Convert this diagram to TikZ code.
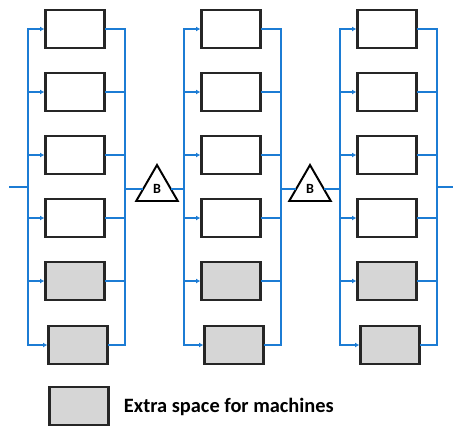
\documentclass[tikz,border=0pt]{standalone}
\usepackage{fontspec}
\setmainfont{Carlito}
\usetikzlibrary{shapes.geometric,arrows.meta}
\definecolor{busblue}{RGB}{28,124,212}
\begin{document}
\begin{tikzpicture}[x=0.025cm, y=-0.025cm,
    machine/.style={draw=black!85, line width=1.6pt, minimum width=1.48cm, minimum height=0.96cm, inner sep=0pt},
    spare/.style={machine, fill=black!16},
    bus/.style={draw=busblue, line width=1.4pt, line cap=rect},
    feed/.style={bus, line cap=butt, -{Latex[length=3pt,width=3.5pt]}},
    buffer/.style={draw, line width=1.4pt, regular polygon, regular polygon sides=3, minimum size=1.2cm, inner sep=0pt, font=\bfseries\fontsize{10}{11}\selectfont}]
    \useasboundingbox (0,0) rectangle (453,430);
    % stations
    \foreach \c/\x in {1/75,2/231,3/387}{
      \foreach \r/\y in {1/29,2/92,3/155,4/218}
        \node[machine] (m\c\r) at (\x,\y) {};
      \node[spare] (m\c5) at (\x,281) {};
      \node[spare] (m\c6) at (\x+3,345) {};
      \coordinate (lb\c) at (\x-47,29);
      \coordinate (rb\c) at (\x+50,29);
      \draw[bus] (lb\c) -- (lb\c |- m\c6.west);
      \draw[bus] (rb\c) -- (rb\c |- m\c6.east);
      \foreach \r in {1,...,6}{
        \draw[feed] (lb\c |- m\c\r.west) -- (m\c\r.west);
        \draw[bus] (m\c\r.east) -- (rb\c |- m\c\r.east);}
    }
    % buffers
    \node[buffer] (b1) at (157,189) {B};
    \node[buffer] (b2) at (310,189) {B};
    \coordinate (in) at (10,187);
    \coordinate (out) at (453,187);
    \draw[bus] (in) -- (lb1 |- in);
    \draw[bus] (rb1 |- b1) -- (b1);
    \draw[bus] (b1) -- (lb2 |- b1);
    \draw[bus] (rb2 |- b2) -- (b2);
    \draw[bus] (b2) -- (lb3 |- b2);
    \draw[bus] (rb3 |- out) -- (out);
    % legend
    \node[spare] (key) at (79,406) {};
    \node[anchor=west, font=\bfseries\fontsize{14.5}{16}\selectfont] (keytext) at (119,407) {Extra space for machines};
\end{tikzpicture}
\end{document}
